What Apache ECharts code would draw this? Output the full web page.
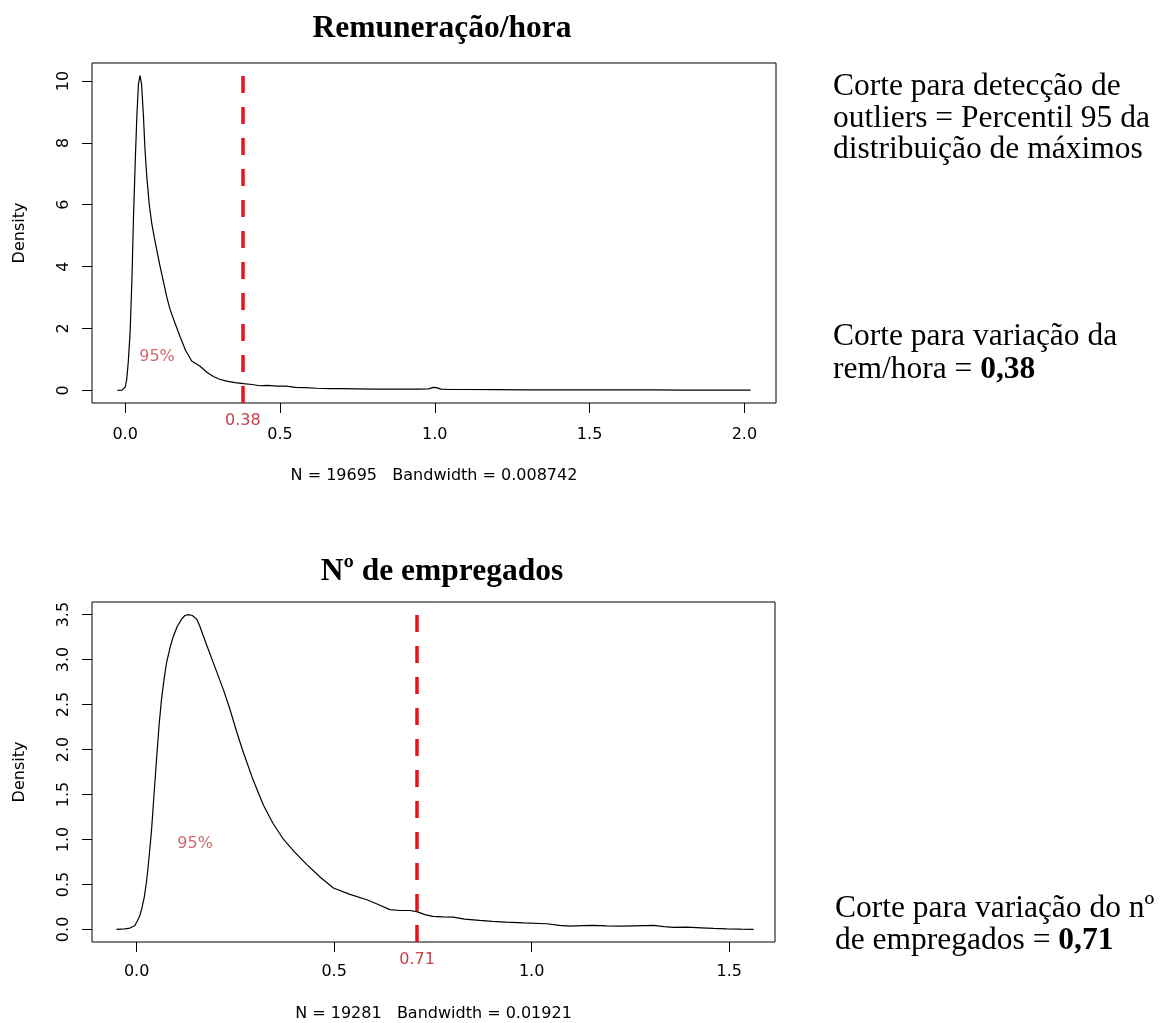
<!DOCTYPE html>
<html><head><meta charset="utf-8">
<script src="https://cdn.jsdelivr.net/npm/echarts@6/dist/echarts.min.js"></script>
<style>html,body{margin:0;padding:0;background:#fff}#c{width:1160px;height:1023px}</style>
</head><body><div id="c"></div>
<script>
// ---- Data: Remuneração/hora density ----
const remX = [-0.025,-0.01,0,0.005,0.01,0.016,0.022,0.027,0.033,0.038,0.043,0.048,0.053,0.059,0.064,0.07,0.078,0.086,0.094,0.102,0.113,0.124,0.135,0.145,0.16,0.177,0.195,0.215,0.242,0.265,0.285,0.305,0.328,0.355,0.382,0.41,0.435,0.46,0.49,0.52,0.55,0.58,0.62,0.66,0.7,0.75,0.8,0.85,0.9,0.95,0.98,0.995,1.005,1.02,1.05,1.1,1.2,1.3,1.4,1.5,1.6,1.7,1.8,1.9,2.0,2.02];
const remY = [0,0.01,0.1,0.35,0.9,1.86,3.6,5.6,7.5,8.9,9.9,10.17,9.9,8.9,7.8,6.9,6.0,5.4,4.95,4.55,4.0,3.5,3.0,2.62,2.2,1.75,1.3,0.95,0.78,0.58,0.45,0.36,0.3,0.25,0.22,0.19,0.15,0.16,0.14,0.14,0.1,0.09,0.07,0.06,0.06,0.05,0.04,0.04,0.04,0.04,0.05,0.1,0.09,0.04,0.03,0.03,0.025,0.02,0.02,0.02,0.015,0.015,0.012,0.01,0.01,0.008];
const remCut = 0.38;
const remCutLabel = '0.38';
const remPctPos = [0.103, 1.1];
const remXTicks = [0, 0.5, 1.0, 1.5, 2.0];
const remYTicks = [0, 2, 4, 6, 8, 10];
const remSub = 'N = 19695   Bandwidth = 0.008742';

// ---- Data: Nº de empregados density ----
const empX = [-0.051,-0.03,-0.017,-0.005,0,0.007,0.013,0.019,0.025,0.031,0.038,0.044,0.051,0.057,0.063,0.07,0.076,0.085,0.093,0.103,0.114,0.122,0.131,0.141,0.152,0.16,0.169,0.186,0.203,0.22,0.236,0.253,0.27,0.295,0.321,0.345,0.372,0.4,0.431,0.465,0.498,0.54,0.583,0.61,0.641,0.667,0.692,0.711,0.73,0.75,0.775,0.801,0.83,0.868,0.9,0.936,0.98,1.038,1.07,1.097,1.13,1.156,1.19,1.224,1.26,1.309,1.335,1.36,1.393,1.43,1.46,1.494,1.53,1.562];
const empY = [0,0.005,0.015,0.04,0.08,0.14,0.23,0.35,0.53,0.78,1.12,1.5,1.93,2.28,2.56,2.8,2.97,3.14,3.26,3.37,3.45,3.49,3.5,3.49,3.45,3.37,3.26,3.06,2.86,2.66,2.45,2.2,1.97,1.66,1.38,1.18,1.0,0.86,0.72,0.58,0.46,0.39,0.33,0.28,0.22,0.21,0.21,0.195,0.165,0.144,0.14,0.137,0.115,0.1,0.09,0.08,0.072,0.063,0.045,0.037,0.042,0.044,0.04,0.037,0.04,0.044,0.03,0.022,0.026,0.018,0.012,0.007,0.003,0];
const empCut = 0.71;
const empCutLabel = '0.71';
const empPctPos = [0.148, 0.95];
const empXTicks = [0, 0.5, 1.0, 1.5];
const empYTicks = [0, 0.5, 1.0, 1.5, 2.0, 2.5, 3.0, 3.5];
const empSub = 'N = 19281   Bandwidth = 0.01921';

const titles = ['Remuneração/hora', 'Nº de empregados'];
const pctText = '95%';

// ---- Styles ----
const SANS = 'DejaVu Sans';
const SERIF = 'Liberation Serif';
const FS = 16;
const RED_TXT = '#c8404a';
const RED_LINE = '#e8121b';

function zip(xs, ys){ return xs.map((x,i)=>[x, ys[i]]); }

function xAxisCfg(gi, min, max, ticks, sub, gap, margin){
  return {
    gridIndex: gi, type: 'value', min, max, position: 'bottom',
    splitLine: {show:false},
    axisLine: {show:false, onZero:false},
    axisTick: {show:true, inside:false, length:10, customValues: ticks, lineStyle:{color:'#000', width:1}},
    axisLabel: {show:true, customValues: ticks, margin, color:'#000', fontFamily:SANS, fontSize:FS,
      formatter: v => v.toFixed(1)},
    name: sub, nameLocation: 'middle', nameGap: gap,
    nameTextStyle: {color:'#000', fontFamily:SANS, fontSize:FS}
  };
}
function yAxisCfg(gi, min, max, ticks, fmt){
  return {
    gridIndex: gi, type: 'value', min, max, position: 'left',
    splitLine: {show:false},
    axisLine: {show:false, onZero:false},
    axisTick: {show:true, inside:false, length:10, customValues: ticks, lineStyle:{color:'#000', width:1}},
    axisLabel: {show:true, customValues: ticks, rotate: 90, margin: 20, color:'#000', fontFamily:SANS, fontSize:FS,
      formatter: fmt},
    name: 'Density', nameLocation: 'middle', nameRotate: 90, nameGap: 64,
    nameTextStyle: {color:'#000', fontFamily:SANS, fontSize:FS}
  };
}
function densitySeries(gi, data, cut, cutLabel){
  return {
    type: 'line', xAxisIndex: gi, yAxisIndex: gi, data,
    showSymbol: false, symbol: 'none', smooth: false, clip: false,
    lineStyle: {color:'#000', width:1.2},
    markLine: {
      silent: true, symbol: ['none','none'], animation:false,
      lineStyle: {color: RED_LINE, width: 3.5, type: [17,14]},
      label: {show:true, position:'start', distance: 10, formatter: cutLabel, color: RED_TXT, fontFamily:SANS, fontSize:FS},
      data: [{xAxis: cut}]
    }
  };
}
function pctSeries(gi, pos){
  return {
    type: 'scatter', xAxisIndex: gi, yAxisIndex: gi, data: [pos],
    symbolSize: 1, itemStyle: {color:'rgba(0,0,0,0)'}, silent:true,
    label: {show:true, position:'inside', formatter: pctText, color: RED_TXT, fontFamily:SANS, fontSize:FS}
  };
}
function sideText(x, y, txt){
  return {type:'text', x, y, silent:true, style:{
    text: txt, textAlign:'left', textVerticalAlign:'middle', fill:'#000',
    fontFamily: SERIF, fontSize: 31.5,
    rich: {
      n: {fontFamily: SERIF, fontSize: 31.5, color:'#000'},
      b: {fontFamily: SERIF, fontSize: 31.5, fontWeight:'bold', color:'#000'}
    }
  }};
}
function titleText(y, txt){
  return {type:'text', x: 442, y, silent:true, style:{
    text: txt, textAlign:'center', textVerticalAlign:'middle', fill:'#000',
    fontFamily: SERIF, fontSize: 31.5, fontWeight:'bold'
  }};
}

const chart = echarts.init(document.getElementById('c'), null, {renderer:'canvas'});
chart.setOption({
  animation: false,
  backgroundColor: '#fff',
  grid: [
    {left:92, top:63, width:684, height:340, show:true, borderColor:'#000', borderWidth:1, backgroundColor:'transparent'},
    {left:92, top:602, width:683, height:341, show:true, borderColor:'#000', borderWidth:1, backgroundColor:'transparent'}
  ],
  xAxis: [
    xAxisCfg(0, -0.107, 2.102, remXTicks, remSub, 65, 24),
    xAxisCfg(1, -0.113, 1.616, empXTicks, empSub, 64, 22)
  ],
  yAxis: [
    yAxisCfg(0, -0.407, 10.58, remYTicks, v => String(v)),
    yAxisCfg(1, -0.14, 3.64, empYTicks, v => v.toFixed(1))
  ],
  series: [
    densitySeries(0, zip(remX, remY), remCut, remCutLabel),
    densitySeries(1, zip(empX, empY), empCut, empCutLabel),
    pctSeries(0, remPctPos),
    pctSeries(1, empPctPos)
  ],
  graphic: [
    titleText(29, titles[0]),
    titleText(572, titles[1]),
    sideText(833, 86.5, 'Corte para detecção de'),
    sideText(833, 118.5, 'outliers = Percentil 95 da'),
    sideText(833, 149.5, 'distribuição de máximos'),
    sideText(833, 336.5, 'Corte para variação da'),
    sideText(833, 370, '{n|rem/hora = }{b|0,38}'),
    sideText(835, 909, 'Corte para variação do nº'),
    sideText(835, 941, '{n|de empregados = }{b|0,71}')
  ]
});
</script></body></html>
